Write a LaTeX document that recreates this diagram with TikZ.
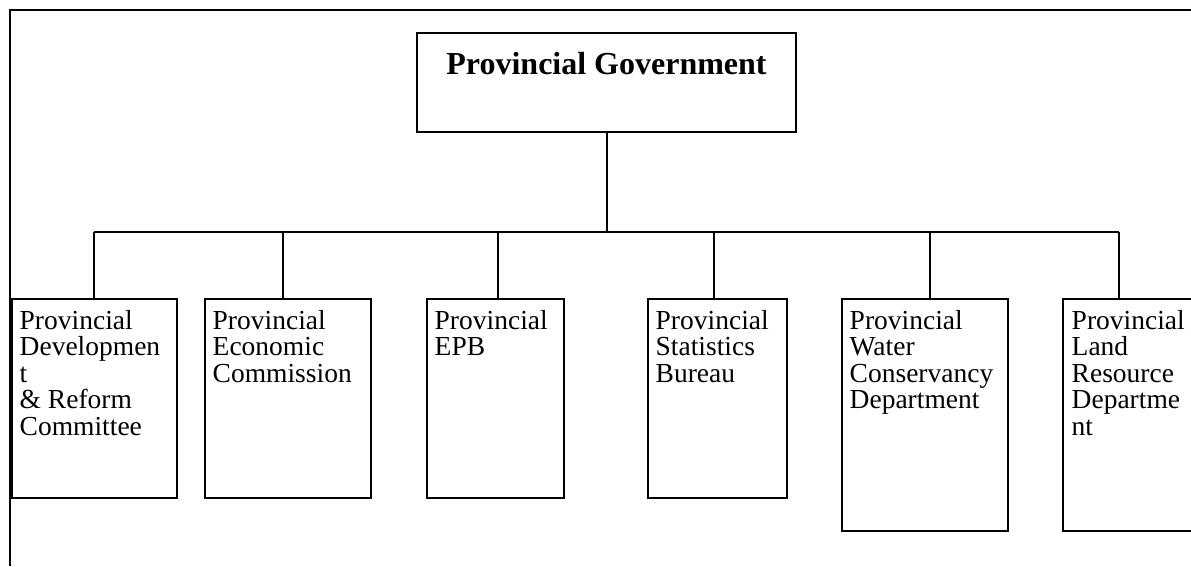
\documentclass[tikz,border=0pt]{standalone}
\usepackage{fontspec}
\setmainfont{Liberation Serif}
\begin{document}
\begin{tikzpicture}[x=1pt,y=-1pt,
  boxst/.style={draw,line width=2pt,rectangle,inner sep=0pt,minimum width=#1},
  lbl/.style={anchor=north west,inner sep=0pt,align=left,font=\fontsize{27.5}{26.5}\selectfont},
  conn/.style={line width=1.5pt},
  frame/.style={line width=2.5pt}]
\clip (0,0) rectangle (1191,566);
% outer frame
\draw[frame] (10,566) -- (10,10) -- (1195,10);
% top box
\node[boxst=379pt,minimum height=99pt] (gov) at (606.5,82.5) {};
\node[anchor=base,inner sep=0pt,font=\fontsize{32}{36}\selectfont\bfseries] (govt) at (606.5,74) {Provincial Government};
% child boxes
\node[boxst=165pt,minimum height=199pt] (b1) at (94.5,398.5) {};
\node[boxst=166pt,minimum height=199pt] (b2) at (288,398.5) {};
\node[boxst=137pt,minimum height=199pt] (b3) at (495.5,398.5) {};
\node[boxst=139pt,minimum height=199pt] (b4) at (717.5,398.5) {};
\node[boxst=166pt,minimum height=232pt] (b5) at (925,415) {};
\node[boxst=150pt,minimum height=232pt] (b6) at (1138,415) {};
% labels
\node[lbl] (t1) at ([shift={(8.5,12)}]b1.north west) {Provincial\\Developmen\\t\\\& Reform\\Committee};
\node[lbl] (t2) at ([shift={(8.5,12)}]b2.north west) {Provincial\\Economic\\Commission};
\node[lbl] (t3) at ([shift={(8.5,12)}]b3.north west) {Provincial\\EPB};
\node[lbl] (t4) at ([shift={(8.5,12)}]b4.north west) {Provincial\\Statistics\\Bureau};
\node[lbl] (t5) at ([shift={(8.5,12)}]b5.north west) {Provincial\\Water\\Conservancy\\Department};
\node[lbl] (t6) at ([shift={(9.5,12)}]b6.north west) {Provincial\\Land\\Resource\\Departme\\nt};
% junctions on bus
\coordinate (j1) at (94,232);
\coordinate (j2) at (283,232);
\coordinate (j3) at (498,232);
\coordinate (j4) at (714,232);
\coordinate (j5) at (930,232);
\coordinate (j6) at (1119,232);
\coordinate (jg) at (607,232);
% connectors
\draw[conn] (gov.south -| jg) -- (jg);
\draw[conn] (j1) -- (j6);
\draw[conn] (j1) -- (j1 |- b1.north);
\draw[conn] (j2) -- (j2 |- b2.north);
\draw[conn] (j3) -- (j3 |- b3.north);
\draw[conn] (j4) -- (j4 |- b4.north);
\draw[conn] (j5) -- (j5 |- b5.north);
\draw[conn] (j6) -- (j6 |- b6.north);
\end{tikzpicture}
\end{document}
